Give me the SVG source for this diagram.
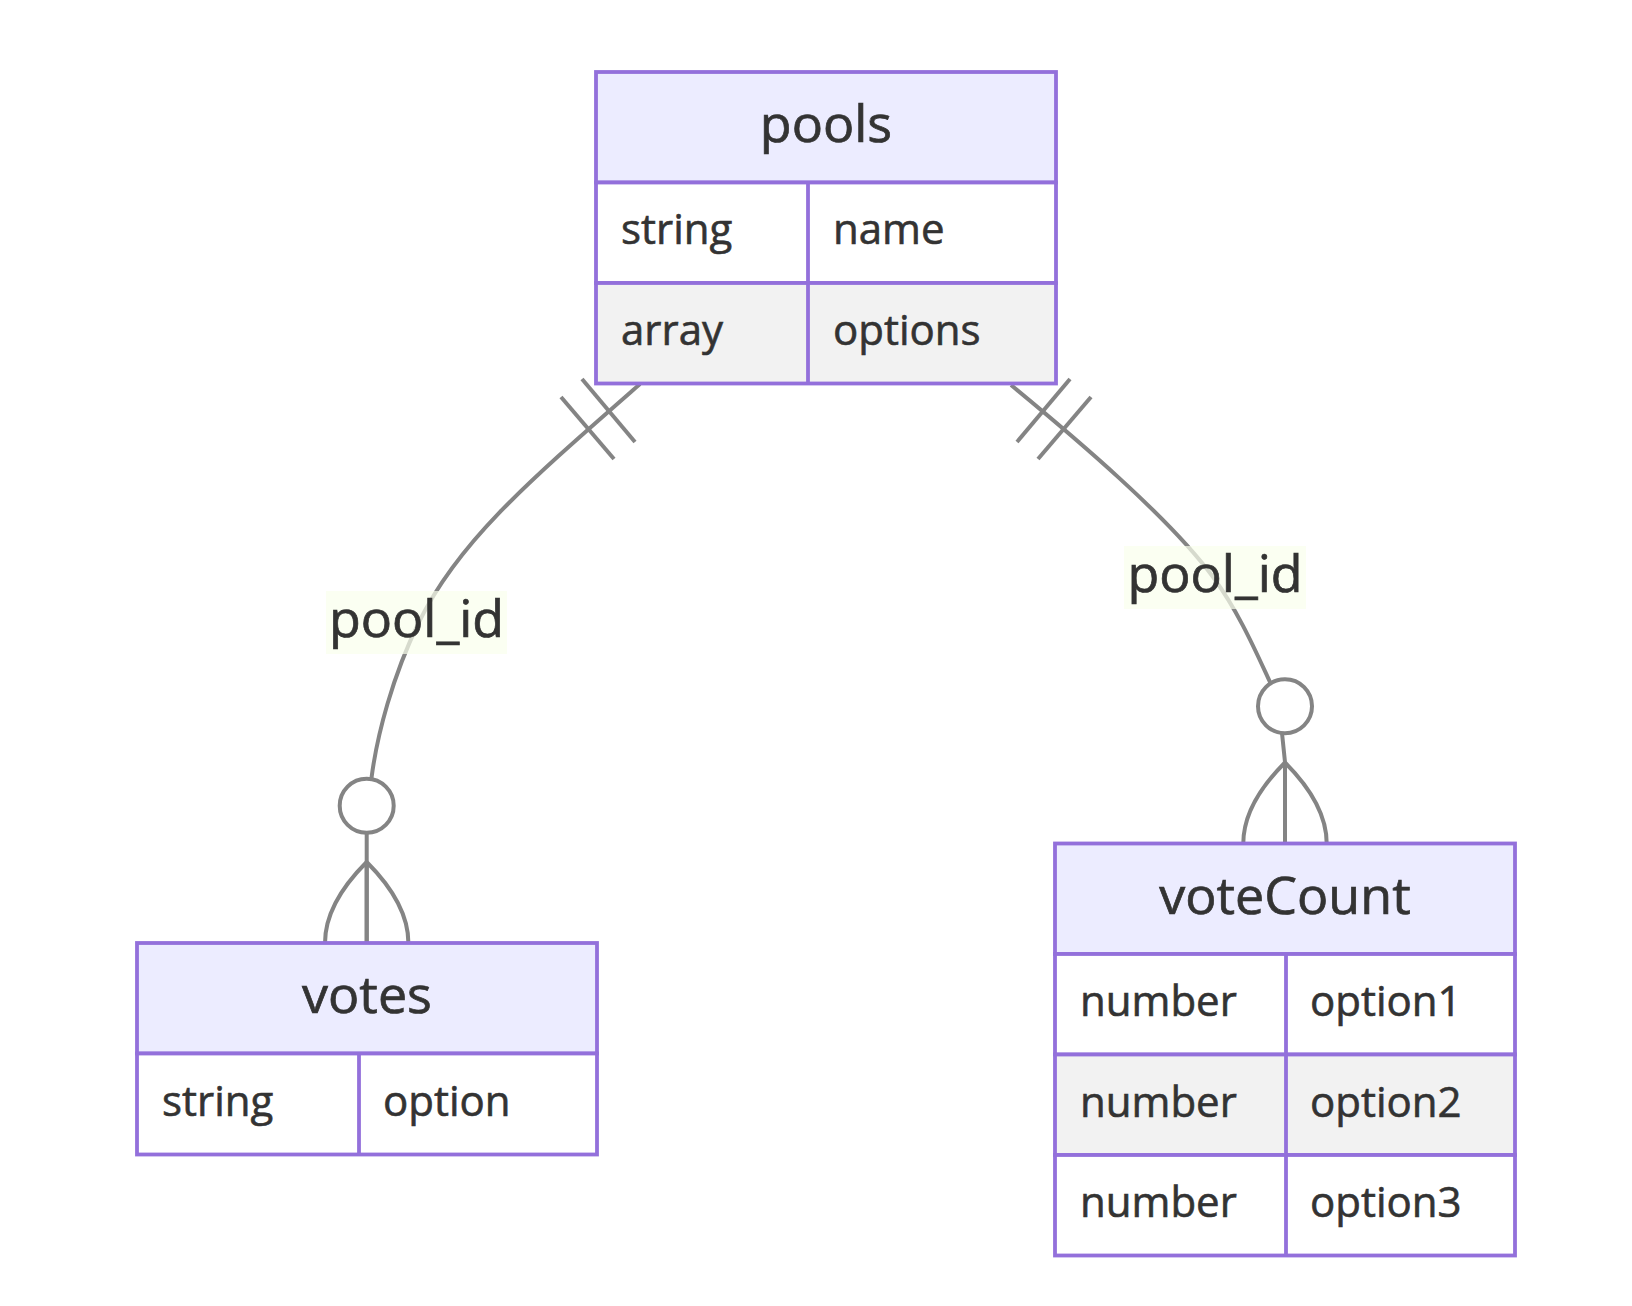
<svg xmlns="http://www.w3.org/2000/svg" xmlns:xlink="http://www.w3.org/1999/xlink" width="1632" height="1306" viewBox="0 0 1632 1306">
<style>
.hdr{fill:#ECECFF;stroke:#9370DB;stroke-width:3.8}
.odd{fill:#ffffff;stroke:#9370DB;stroke-width:3.8}
.even{fill:#f2f2f2;stroke:#9370DB;stroke-width:3.8}
.div{stroke:#9370DB;stroke-width:3.8}
.title{font-family:"Open Sans","Noto Sans","Liberation Sans",sans-serif;font-size:52px;fill:#333;stroke:#333;stroke-width:0.7;text-anchor:middle}
.attr{font-family:"Open Sans","Noto Sans","Liberation Sans",sans-serif;font-size:42px;fill:#333;stroke:#333;stroke-width:0.6}
.rel{fill:none;stroke:#848484;stroke-width:4}
.lblbox{fill:#F9FFEC;opacity:0.7}
.lbl{font-family:"Open Sans","Noto Sans","Liberation Sans",sans-serif;font-size:52px;fill:#333;stroke:#333;stroke-width:0.7;text-anchor:middle}
</style>
<defs>
<g id="zeroOrMany">
<circle cx="0" cy="-137.3" r="27" fill="#fff" stroke="#848484" stroke-width="4"/>
<path d="M0,-81 L0,0 M0,-81 Q-41.7,-39.3 -41.7,0 M0,-81 Q41.7,-39.3 41.7,0" fill="none" stroke="#848484" stroke-width="4"/>
</g>
</defs>
<rect width="1632" height="1306" fill="#fff"/>
<g id="connectors">
<path class="rel" d="M640,384 C528,482 458.5,541.5 419,622 C392.7,675.7 377,735 371.5,778 L366.7,834 L366.7,943"/>
<line class="rel" x1="582" y1="379" x2="635" y2="442"/>
<line class="rel" x1="561" y1="397" x2="614" y2="459"/>
<use xlink:href="#zeroOrMany" href="#zeroOrMany" transform="translate(366.7,943)"/>
<path class="rel" d="M1011,385 C1073.6,436.6 1169,517 1213,577 C1238.7,612 1255.4,650.6 1270,682 L1282,733 L1285,762 L1285,843.5"/>
<line class="rel" x1="1070" y1="379" x2="1017" y2="442"/>
<line class="rel" x1="1091" y1="397" x2="1038" y2="459"/>
<use xlink:href="#zeroOrMany" href="#zeroOrMany" transform="translate(1285,843.5)"/>
<g id="label-pools-votes">
<rect class="lblbox" x="326" y="591" width="181" height="63"/>
<text class="lbl" x="416.5" y="637">pool_id</text>
</g>
<g id="label-pools-voteCount">
<rect class="lblbox" x="1124" y="546" width="182" height="63"/>
<text class="lbl" x="1215" y="591.5">pool_id</text>
</g>
</g>
<g id="node-pools">
<rect class="hdr" x="596" y="72" width="460" height="110.5"/>
<rect class="odd" x="596" y="182.5" width="460" height="100.5"/>
<rect class="even" x="596" y="283" width="460" height="100.5"/>
<line class="div" x1="808" y1="182.5" x2="808" y2="383.5"/>
<text class="title" x="826" y="141.5">pools</text>
<text class="attr" x="621" y="244">string</text>
<text class="attr" x="833" y="244">name</text>
<text class="attr" x="621" y="344.5">array</text>
<text class="attr" x="833" y="344.5">options</text>
</g>
<g id="node-votes">
<rect class="hdr" x="137" y="943" width="460" height="110.5"/>
<rect class="odd" x="137" y="1053.5" width="460" height="101"/>
<line class="div" x1="359" y1="1053.5" x2="359" y2="1154.5"/>
<text class="title" x="367" y="1013">votes</text>
<text class="attr" x="162" y="1115.5">string</text>
<text class="attr" x="383" y="1115.5">option</text>
</g>
<g id="node-voteCount">
<rect class="hdr" x="1055" y="843.5" width="460" height="110.5"/>
<rect class="odd" x="1055" y="954" width="460" height="100.5"/>
<rect class="even" x="1055" y="1054.5" width="460" height="100.5"/>
<rect class="odd" x="1055" y="1155" width="460" height="100.5"/>
<line class="div" x1="1286" y1="954" x2="1286" y2="1255.5"/>
<text class="title" x="1285" y="913.5">voteCount</text>
<text class="attr" x="1080" y="1016">number</text>
<text class="attr" x="1310" y="1016">option1</text>
<text class="attr" x="1080" y="1116.5">number</text>
<text class="attr" x="1310" y="1116.5">option2</text>
<text class="attr" x="1080" y="1217">number</text>
<text class="attr" x="1310" y="1217">option3</text>
</g>
</svg>
